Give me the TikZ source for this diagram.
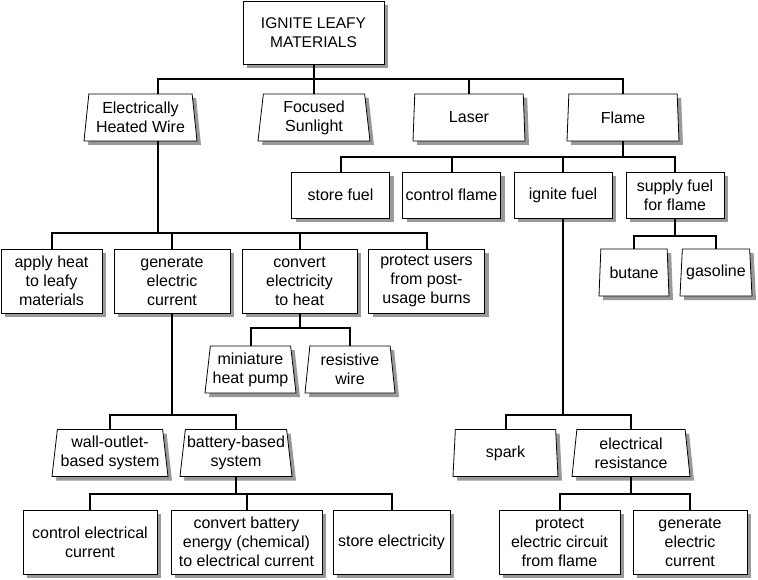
\documentclass[tikz,border=0pt]{standalone}
\usepackage{fontspec}
\setmainfont{Liberation Sans}
\usetikzlibrary{shapes.geometric,shadows}

\begin{document}
\begin{tikzpicture}[x=1pt,y=1pt,font=\fontsize{16}{19}\selectfont,
 fn/.style={draw,fill=white,line width=0.8pt,align=center,inner sep=0pt,%
   drop shadow={shadow xshift=4pt,shadow yshift=-4pt,fill=black!40,opacity=1}},
 means/.style={fn,trapezium,trapezium left angle=81,trapezium right angle=81,%
   trapezium stretches body,minimum height=47pt},
 conn/.style={line width=2pt}]
\useasboundingbox (0,0) rectangle (758,-580);
% goal
\node[fn,minimum width=141pt,minimum height=63pt,font=\fontsize{15.5}{19}\selectfont]
  (goal) at (313.5,-32.5) {IGNITE LEAFY\\MATERIALS};
% means, first level
\node[means,minimum width=113pt] (wire) at (140.5,-117.5) {Electrically\\Heated Wire};
\node[means,minimum width=112pt] (sun) at (314,-117.5) {Focused\\Sunlight};
\node[means,minimum width=112pt] (laser) at (469,-117.5) {Laser};
\node[means,minimum width=112pt] (flame) at (623,-117.5) {Flame};
% flame functions
\node[fn,minimum width=98pt,minimum height=46pt] (store) at (340.5,-195) {store fuel};
\node[fn,minimum width=98pt,minimum height=46pt] (ctrlflame) at (451.5,-195) {control flame};
\node[fn,minimum width=98pt,minimum height=46pt] (ignite) at (563,-195) {ignite fuel};
\node[fn,minimum width=98pt,minimum height=46pt] (supply) at (675,-195) {supply fuel\\for flame};
\node[means,minimum width=70pt] (butane) at (634,-272.5) {butane};
\node[means,minimum width=72pt] (gasoline) at (716,-272.5) {gasoline};
% wire functions
\node[fn,minimum width=101pt,minimum height=64pt] (apply) at (51.5,-281) {apply heat\\to leafy\\materials};
\node[fn,minimum width=116pt,minimum height=64pt] (generate) at (172,-281) {generate\\electric\\current};
\node[fn,minimum width=115pt,minimum height=64pt] (convert) at (299.5,-281) {convert\\electricity\\to heat};
\node[fn,minimum width=116pt,minimum height=64pt] (protect) at (426.5,-281) {protect users\\from post-\\usage burns};
\node[means,minimum width=91pt] (pump) at (250.5,-369.5) {miniature\\heat pump};
\node[means,minimum width=90pt] (resistwire) at (350,-369.5) {resistive\\wire};
\node[means,minimum width=116pt] (wall) at (110,-453) {wall-outlet-\\based system};
\node[means,minimum width=112pt] (battery) at (236,-453) {battery-based\\system};
\node[means,minimum width=105pt] (spark) at (505.5,-453) {spark};
\node[means,minimum width=118pt] (resist) at (631,-453) {electrical\\resistance};
% bottom row
\node[fn,minimum width=134pt,minimum height=64pt] (ctrlcur) at (90,-542) {control electrical\\current};
\node[fn,minimum width=151pt,minimum height=64pt] (convbat) at (246.5,-542) {convert battery\\energy (chemical)\\to electrical current};
\node[fn,minimum width=117pt,minimum height=64pt] (storeel) at (391.5,-542) {store electricity};
\node[fn,minimum width=121pt,minimum height=64pt] (protcirc) at (559.5,-542) {protect\\electric circuit\\from flame};
\node[fn,minimum width=114pt,minimum height=64pt] (gencur) at (690,-542) {generate\\electric\\current};
% buses
\coordinate (busA) at (0,-79);
\coordinate (busB) at (0,-233);
\coordinate (busC) at (0,-157);
\coordinate (busD) at (0,-236);
\coordinate (busE) at (0,-328);
\coordinate (busF) at (0,-415);
\coordinate (busG) at (0,-494);
% connectors
\draw[conn] (goal.south) -- (goal.south |- sun.north);
\draw[conn] ([xshift=17.5pt]wire.north) |- (flame.north |- busA) -- (flame.north);
\draw[conn] (laser.north) -- (laser.north |- busA);
\draw[conn] ([xshift=17.5pt]wire.south) -- ([xshift=17.5pt]wire.south |- busB);
\draw[conn] (apply.north) |- (protect.north |- busB) -- (protect.north);
\draw[conn] (generate.north) -- (generate.north |- busB);
\draw[conn] (convert.north) -- (convert.north |- busB);
\draw[conn] (flame.south) -- (flame.south |- busC);
\draw[conn] (store.north) |- (supply.north |- busC) -- (supply.north);
\draw[conn] (ctrlflame.north) -- (ctrlflame.north |- busC);
\draw[conn] (ignite.north) -- (ignite.north |- busC);
\draw[conn] (supply.south) -- (supply.south |- busD);
\draw[conn] (butane.north) |- (gasoline.north |- busD) -- (gasoline.north);
\draw[conn] (convert.south) -- (convert.south |- busE);
\draw[conn] (pump.north) |- (resistwire.north |- busE) -- (resistwire.north);
\draw[conn] (generate.south) -- (generate.south |- busF);
\draw[conn] (wall.north) |- (battery.north |- busF) -- (battery.north);
\draw[conn] (ignite.south) -- (ignite.south |- busF);
\draw[conn] (spark.north) |- (resist.north |- busF) -- (resist.north);
\draw[conn] (battery.south) -- (battery.south |- busG);
\draw[conn] (ctrlcur.north) |- (storeel.north |- busG) -- (storeel.north);
\draw[conn] (convbat.north) -- (convbat.north |- busG);
\draw[conn] (resist.south) -- (resist.south |- busG);
\draw[conn] (protcirc.north) |- (gencur.north |- busG) -- (gencur.north);
\end{tikzpicture}
\end{document}
